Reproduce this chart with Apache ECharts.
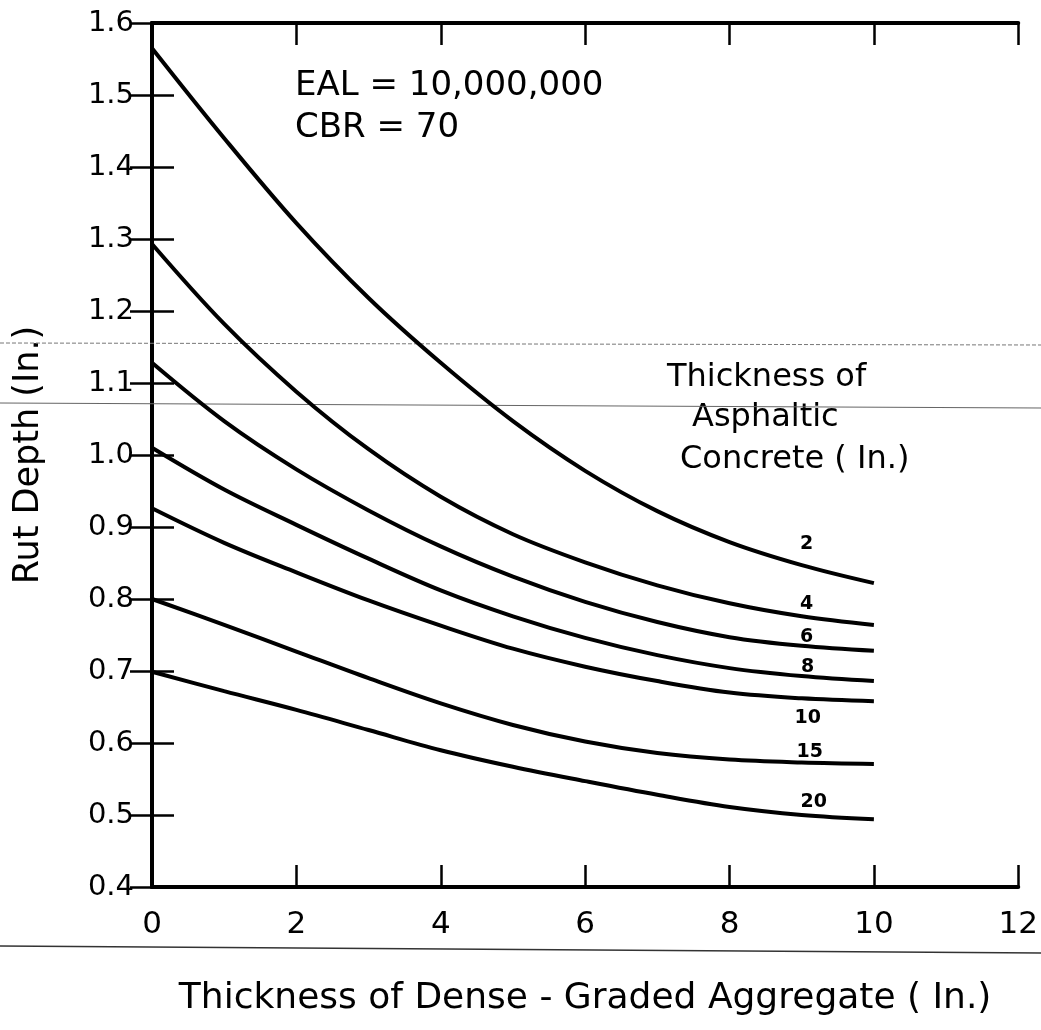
<!DOCTYPE html>
<html>
<head>
<meta charset="utf-8">
<script src="https://cdn.jsdelivr.net/npm/echarts@6/dist/echarts.min.js"></script>
<style>
  html, body { margin: 0; padding: 0; background: #fff; }
  #chart { width: 1041px; height: 1030px; }
</style>
</head>
<body>
<div id="chart"></div>
<script>
// x = thickness of dense-graded aggregate (in.)
const xValues = [0, 1, 2, 3, 4, 5, 6, 7, 8, 9, 10];
// rut depth (in.) for each asphaltic concrete thickness
const ac2  = [1.565, 1.440, 1.322, 1.218, 1.128, 1.047, 0.978, 0.922, 0.879, 0.847, 0.822];
const ac4  = [1.293, 1.182, 1.088, 1.008, 0.942, 0.890, 0.851, 0.819, 0.794, 0.776, 0.764];
const ac6  = [1.128, 1.047, 0.980, 0.923, 0.873, 0.831, 0.796, 0.768, 0.747, 0.735, 0.728];
const ac8  = [1.010, 0.952, 0.903, 0.856, 0.812, 0.776, 0.746, 0.722, 0.704, 0.693, 0.686];
const ac10 = [0.926, 0.878, 0.837, 0.798, 0.763, 0.731, 0.706, 0.686, 0.670, 0.662, 0.658];
const ac15 = [0.800, 0.764, 0.727, 0.690, 0.655, 0.625, 0.602, 0.586, 0.577, 0.573, 0.571];
const ac20 = [0.699, 0.672, 0.646, 0.618, 0.590, 0.567, 0.547, 0.528, 0.511, 0.500, 0.494];
const curveNames = ['2', '4', '6', '8', '10', '15', '20'];
const curves = [ac2, ac4, ac6, ac8, ac10, ac15, ac20];
const xTicks = [0, 2, 4, 6, 8, 10, 12];

// label offsets (px) relative to the point at x = 9
const labelOffsets = [[5, -21], [5, -12], [5, -9], [6, -9], [6, 20], [8, -10], [12, -13]];

const chart = echarts.init(document.getElementById('chart'));
const FONT = 'DejaVu Sans';

const series = [];
curves.forEach(function (c, i) {
    series.push({
        name: curveNames[i],
        type: 'line',
        data: xValues.map(function (x, j) { return [x, c[j]]; }),
        showSymbol: false,
        smooth: 0.35,
        lineStyle: { color: '#000', width: 4 },
        z: 3
    });
    series.push({
        type: 'scatter',
        data: [[xValues[9], c[9]]],
        symbolSize: 0,
        itemStyle: { opacity: 1, color: '#000' },
        label: {
            show: true,
            position: 'inside',
            formatter: curveNames[i],
            offset: labelOffsets[i],
            fontFamily: FONT,
            fontWeight: 'bold',
            fontSize: 19,
            color: '#000'
        },
        z: 4
    });
});

const axisLine = { show: true, lineStyle: { color: '#000', width: 4 } };
const tick = { show: true, inside: true, length: 22, lineStyle: { color: '#000', width: 2.5 } };

option = {
    animation: false,
    backgroundColor: '#fff',
    grid: { left: 152, right: 19, top: 23, bottom: 143 },
    xAxis: [
        {
            type: 'value', min: 0, max: 12, interval: 2,
            axisLine: axisLine, axisTick: tick, splitLine: { show: false },
            axisLabel: { fontFamily: FONT, fontSize: 31, color: '#000', margin: 22,
                formatter: function (v) { return xTicks.indexOf(v) >= 0 ? String(v) : ''; } },
            name: 'Thickness of Dense - Graded Aggregate ( In.)',
            nameLocation: 'middle', nameGap: 94,
            nameTextStyle: { fontFamily: FONT, fontSize: 36, color: '#000' }
        },
        {
            type: 'value', min: 0, max: 12, interval: 2, position: 'top',
            axisLine: axisLine, axisTick: tick, splitLine: { show: false },
            axisLabel: { show: false }
        }
    ],
    yAxis: [
        {
            type: 'value', min: 0.4, max: 1.6, interval: 0.1,
            axisLine: axisLine, axisTick: tick, splitLine: { show: false },
            axisLabel: { fontFamily: FONT, fontSize: 29, color: '#000', margin: 18,
                formatter: function (v) { return v.toFixed(1); } },
            name: 'Rut Depth (In.)',
            nameLocation: 'middle', nameGap: 106, nameRotate: 90,
            nameTextStyle: { fontFamily: FONT, fontSize: 35, color: '#000' }
        },
        {
            type: 'value', min: 0.4, max: 1.6, interval: 0.1, position: 'right',
            axisLine: axisLine, axisTick: tick, splitLine: { show: false },
            axisLabel: { show: false }
        }
    ],
    graphic: [
        { type: 'text', left: 295, top: 69, style: { text: 'EAL = 10,000,000', font: '34px "DejaVu Sans"', fill: '#000' } },
        { type: 'text', left: 295, top: 111, style: { text: 'CBR = 70', font: '34px "DejaVu Sans"', fill: '#000' } },
        { type: 'text', left: 667, top: 362, style: { text: 'Thickness of', font: '32px "DejaVu Sans"', fill: '#000' } },
        { type: 'text', left: 692, top: 402, style: { text: 'Asphaltic', font: '32px "DejaVu Sans"', fill: '#000' } },
        { type: 'text', left: 680, top: 444, style: { text: 'Concrete ( In.)', font: '32px "DejaVu Sans"', fill: '#000' } },
        // scan artefact lines
        { type: 'line', shape: { x1: 0, y1: 343, x2: 1041, y2: 345 }, style: { stroke: '#777', lineWidth: 1, lineDash: [4, 2] }, z: 1 },
        { type: 'line', shape: { x1: 0, y1: 403, x2: 1041, y2: 408 }, style: { stroke: '#666', lineWidth: 1.2 }, z: 1 },
        { type: 'line', shape: { x1: 0, y1: 946, x2: 1041, y2: 953 }, style: { stroke: '#333', lineWidth: 1.5 }, z: 1 }
    ],
    series: series
};
chart.setOption(option);
</script>
</body>
</html>
